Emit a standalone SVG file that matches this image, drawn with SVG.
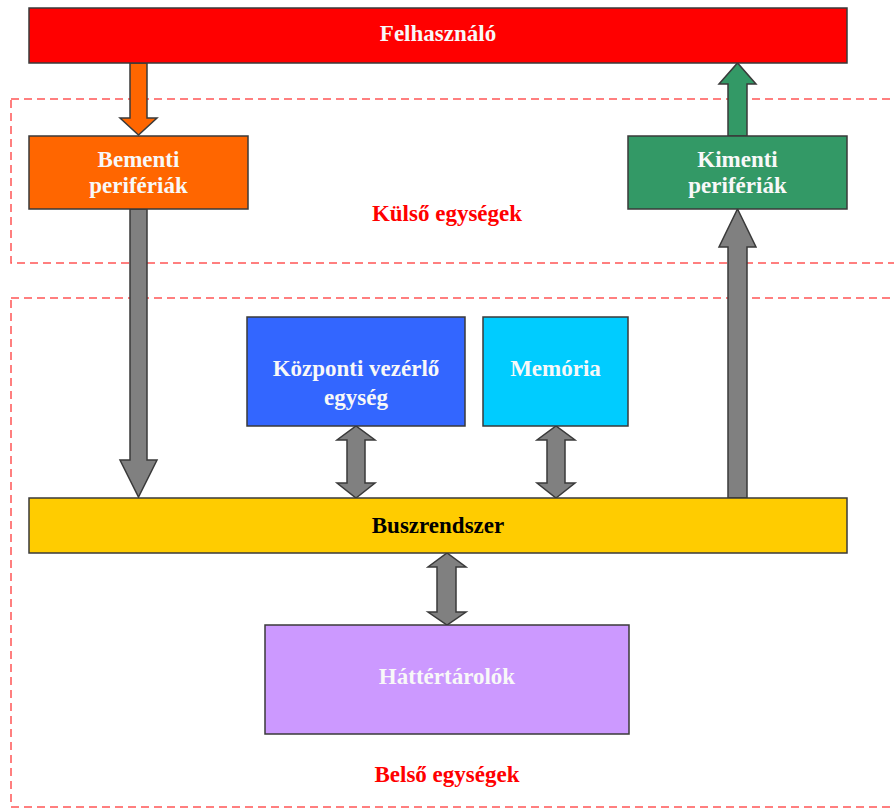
<svg xmlns="http://www.w3.org/2000/svg" width="894" height="809" viewBox="0 0 894 809">
<style>
.box{stroke:#3a3a3a;stroke-width:1.5}
.lbl{font-family:"Liberation Serif",serif;font-weight:bold;font-size:23px;fill:#f8f8f8;text-anchor:middle}
.dark{fill:#000}
.red{fill:#ff0000}
.zone{fill:none;stroke:#ff5555;stroke-width:1.5;stroke-dasharray:8 5}
.gray{fill:#808080;stroke:#3a3a3a;stroke-width:1.5;stroke-linejoin:miter}
</style>
<rect width="894" height="809" fill="#fff"/>
<g id="zones">
<rect class="zone" x="11" y="99" width="900" height="164"/>
<rect class="zone" x="11" y="298" width="900" height="509"/>
<text class="lbl red" x="447" y="221">Külső egységek</text>
<text class="lbl red" x="447" y="782">Belső egységek</text>
</g>
<g id="connectors">
<path d="M130,63 H147 V118 H157 L138.5,135 L120,118 H130 Z" fill="#ff6600" stroke="#3a3a3a" stroke-width="1.5"/>
<path d="M728,136 V84 H719 L737.5,63 L756,84 H747 V136 Z" fill="#339966" stroke="#3a3a3a" stroke-width="1.5"/>
<path class="gray" d="M130,209 H147 V460 H157 L138.5,497 L120,460 H130 Z"/>
<path class="gray" d="M728,498 V247 H719 L737.5,209 L756,247 H747 V498 Z"/>
<path class="gray" d="M347,440 H337 L356,426 L375,440 H365 V483 H375 L356,498 L337,483 H347 Z"/>
<path class="gray" d="M547,440 H537 L556,426 L575,440 H565 V483 H575 L556,498 L537,483 H547 Z"/>
<path class="gray" d="M437,567 H428 L447,553 L466,567 H456 V612 H466 L447,625 L428,612 H437 Z"/>
</g>
<g id="felhasznalo">
<rect class="box" x="29" y="8" width="818" height="55" fill="#ff0000"/>
<text class="lbl" x="438" y="41">Felhasználó</text>
</g>
<g id="bementi">
<rect class="box" x="29" y="136" width="219" height="73" fill="#ff6600"/>
<text class="lbl" x="138.5" y="167">Bementi</text>
<text class="lbl" x="138.5" y="193">perifériák</text>
</g>
<g id="kimenti">
<rect class="box" x="628" y="136" width="219" height="73" fill="#339966"/>
<text class="lbl" x="737.5" y="167">Kimenti</text>
<text class="lbl" x="737.5" y="193">perifériák</text>
</g>
<g id="cpu">
<rect class="box" x="247" y="317" width="218" height="109" fill="#3366ff"/>
<text class="lbl" x="356" y="376">Központi vezérlő</text>
<text class="lbl" x="356" y="405">egység</text>
</g>
<g id="memoria">
<rect class="box" x="483" y="317" width="145" height="109" fill="#00ccff"/>
<text class="lbl" x="555.5" y="376">Memória</text>
</g>
<g id="busz">
<rect class="box" x="29" y="498" width="818" height="55" fill="#ffcc00"/>
<text class="lbl dark" x="438" y="533">Buszrendszer</text>
</g>
<g id="hatter">
<rect class="box" x="265" y="625" width="364" height="109" fill="#cc99ff"/>
<text class="lbl" x="447" y="684">Háttértárolók</text>
</g>
</svg>
